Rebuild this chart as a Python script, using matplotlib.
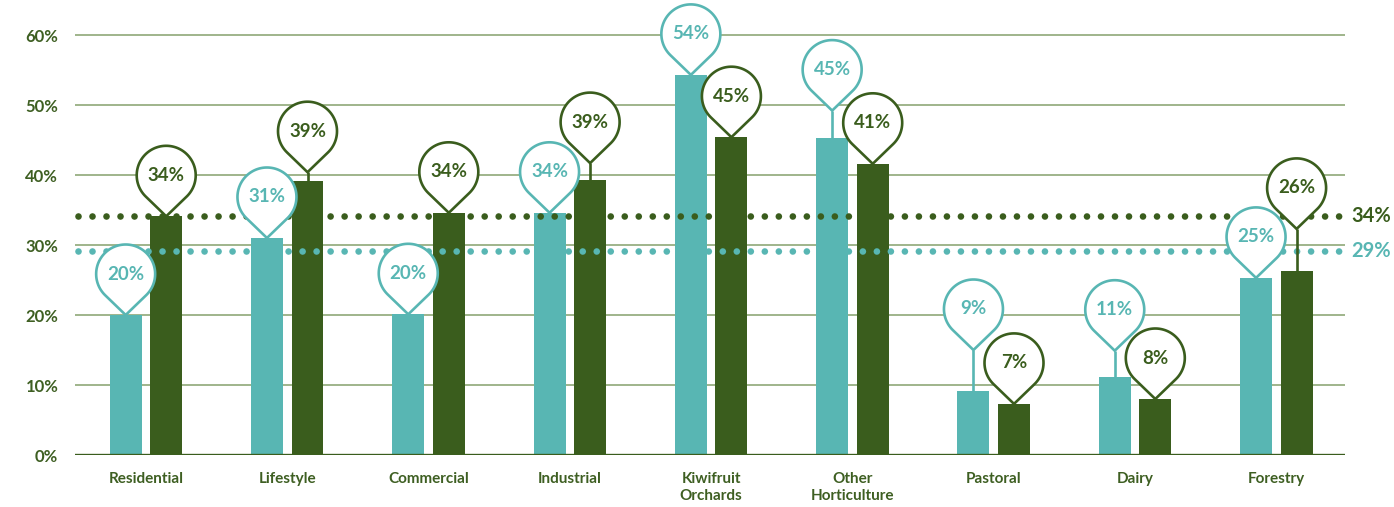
import numpy as np
import matplotlib
matplotlib.use("Agg")
import matplotlib.pyplot as plt
from matplotlib.path import Path
from matplotlib.patches import PathPatch
from matplotlib.transforms import ScaledTranslation

# data
categories = ['Residential', 'Lifestyle', 'Commercial', 'Industrial', 'Kiwifruit\nOrchards',
              'Other\nHorticulture', 'Pastoral', 'Dairy', 'Forestry']
teal_vals = [20.0, 31.0, 20.1, 34.6, 54.3, 45.3, 9.1, 11.1, 25.3]
green_vals = [34.1, 39.1, 34.6, 39.3, 45.4, 41.6, 7.3, 8.0, 26.3]
teal_labels = [20, 31, 20, 34, 54, 45, 9, 11, 25]
green_labels = [34, 39, 34, 39, 45, 41, 7, 8, 26]
teal_avg = 29.1
green_avg = 34.1
teal_avg_label = 29
green_avg_label = 34

# how far the pin tip sits above its bar (to keep pins from overlapping)
teal_stem = [0, 0, 0, 0, 0, 3.9, 5.9, 3.8, 0]
green_stem = [0, 1.3, 0, 2.4, 0, 0, 0, 0, 6.0]

TEAL = '#58b6b3'
GREEN = '#3a5d1d'
TEXT = '#3e5f22'
GRID = '#8fa878'
FONT = 'Lato'

fig = plt.figure(figsize=(13.94, 5.07), dpi=100)
ax = fig.add_axes([75 / 1394, 52 / 507, 1270 / 1394, 455 / 507])
ax.set_xlim(-0.502, 8.486)
ax.set_ylim(0, 65)
for s in ax.spines.values():
    s.set_visible(False)

# grid
for v in range(10, 61, 10):
    ax.axhline(v, color=GRID, lw=1.2, zorder=1)
ax.axhline(0, color=GREEN, lw=2.4, zorder=3)

ax.set_yticks(range(0, 61, 10))
ax.set_yticklabels([f'{v}%' for v in range(0, 61, 10)], fontsize=12, fontweight='bold',
                   color=TEXT, family=FONT)
ax.tick_params(axis='y', length=0, pad=12)

x = np.arange(len(categories))
ax.set_xticks(x)
ax.set_xticklabels(categories, fontsize=11, fontweight='bold', color=TEXT, family=FONT,
                   linespacing=1.25, va='top')
ax.tick_params(axis='x', length=0, pad=12.5)

off = 0.1435
w = 0.226
ax.bar(x - off, teal_vals, w, color=TEAL, zorder=2)
ax.bar(x + off, green_vals, w, color=GREEN, zorder=2)

# dotted average lines
for val, lab, col in [(green_avg, green_avg_label, GREEN), (teal_avg, teal_avg_label, TEAL)]:
    ax.plot([-0.48, 8.47], [val, val], color=col, lw=4.8, ls=(0, (0.001, 2.1)),
            dash_capstyle='round', zorder=2.5, clip_on=False)
    ax.text(8.53, val, f'{lab}%', color=col, fontsize=14.5, fontweight='bold',
            family=FONT, va='center', ha='left')

# pin shape in inches: tip at origin, circle above
r = 0.295
d = 0.41
a = np.degrees(np.arccos(r / d))
ang = np.radians(np.linspace(-90 + a, 270 - a, 80))
verts = [(0, 0)] + [(r * np.cos(t), d + r * np.sin(t)) for t in ang] + [(0, 0)]
pin_path = Path(verts, [Path.MOVETO] + [Path.LINETO] * (len(verts) - 2) + [Path.CLOSEPOLY])


def draw_pin(xp, ytop, stem, col, lab):
    ytip = ytop + stem
    if stem > 0:
        ax.plot([xp, xp], [ytop, ytip], color=col, lw=1.9, zorder=4, solid_capstyle='butt')
    tr = fig.dpi_scale_trans + ScaledTranslation(xp, ytip, ax.transData)
    ax.add_patch(PathPatch(pin_path, transform=tr, facecolor='white', edgecolor=col,
                           lw=1.9, zorder=5, clip_on=False))
    ax.annotate(f'{lab}%', (xp, ytip), xytext=(0, d * 72), textcoords='offset points',
                ha='center', va='center', color=col, fontsize=13.5, fontweight='bold',
                family=FONT, zorder=6, annotation_clip=False)


for i in range(len(categories)):
    draw_pin(x[i] - off, teal_vals[i], teal_stem[i], TEAL, teal_labels[i])
    draw_pin(x[i] + off, green_vals[i], green_stem[i], GREEN, green_labels[i])

fig.savefig('out.png', dpi=100)
